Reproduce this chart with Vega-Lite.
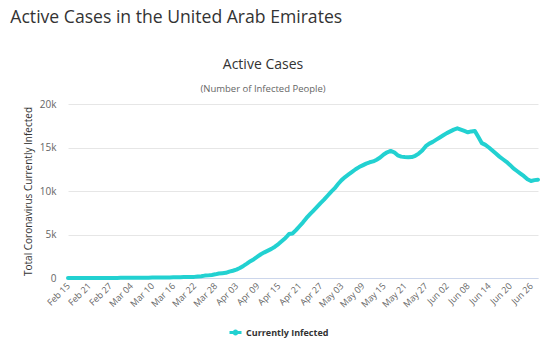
{
  "$schema": "https://vega.github.io/schema/vega-lite/v6.json",
  "background": "white",
  "padding": {"left": 10, "top": 8, "right": 5, "bottom": 5},
  "title": {
    "text": "Active Cases in the United Arab Emirates",
    "anchor": "start",
    "font": "Open Sans",
    "fontSize": 17.6,
    "fontWeight": "normal",
    "color": "#333333",
    "dx": -13,
    "offset": 31
  },
  "config": {
    "view": {"stroke": null},
    "font": "Open Sans",
    "axis": {
      "labelFont": "Open Sans",
      "labelColor": "#666666",
      "titleFont": "Open Sans",
      "titleColor": "#333333",
      "titleFontWeight": "normal",
      "gridColor": "#e6e6e6",
      "ticks": false
    }
  },
  "vconcat": [
    {
      "width": 470,
      "height": 174,
      "title": {
        "text": "Active Cases",
        "subtitle": "(Number of Infected People)",
        "anchor": "middle",
        "font": "Open Sans",
        "fontSize": 14,
        "fontWeight": "normal",
        "color": "#333333",
        "subtitleFont": "Open Sans",
        "subtitleFontSize": 9.5,
        "subtitleColor": "#666666",
        "subtitlePadding": 12,
        "dx": -40,
        "offset": 6
      },
      "data": {
        "values": [
          {"date": "Feb 15", "active": 8}, {"date": "Feb 16", "active": 8}, {"date": "Feb 17", "active": 8},
          {"date": "Feb 18", "active": 6}, {"date": "Feb 19", "active": 6}, {"date": "Feb 20", "active": 6},
          {"date": "Feb 21", "active": 6}, {"date": "Feb 22", "active": 6}, {"date": "Feb 23", "active": 6},
          {"date": "Feb 24", "active": 6}, {"date": "Feb 25", "active": 6}, {"date": "Feb 26", "active": 6},
          {"date": "Feb 27", "active": 8}, {"date": "Feb 28", "active": 12}, {"date": "Feb 29", "active": 14},
          {"date": "Mar 01", "active": 16}, {"date": "Mar 02", "active": 16}, {"date": "Mar 03", "active": 19},
          {"date": "Mar 04", "active": 22}, {"date": "Mar 05", "active": 22}, {"date": "Mar 06", "active": 22},
          {"date": "Mar 07", "active": 32}, {"date": "Mar 08", "active": 33}, {"date": "Mar 09", "active": 35},
          {"date": "Mar 10", "active": 48}, {"date": "Mar 11", "active": 51}, {"date": "Mar 12", "active": 54},
          {"date": "Mar 13", "active": 60}, {"date": "Mar 14", "active": 62}, {"date": "Mar 15", "active": 67},
          {"date": "Mar 16", "active": 72}, {"date": "Mar 17", "active": 75}, {"date": "Mar 18", "active": 87},
          {"date": "Mar 19", "active": 101}, {"date": "Mar 20", "active": 114}, {"date": "Mar 21", "active": 115},
          {"date": "Mar 22", "active": 128}, {"date": "Mar 23", "active": 175}, {"date": "Mar 24", "active": 207},
          {"date": "Mar 25", "active": 275}, {"date": "Mar 26", "active": 302}, {"date": "Mar 27", "active": 353},
          {"date": "Mar 28", "active": 422}, {"date": "Mar 29", "active": 511}, {"date": "Mar 30", "active": 550},
          {"date": "Mar 31", "active": 594}, {"date": "Apr 01", "active": 732}, {"date": "Apr 02", "active": 831},
          {"date": "Apr 03", "active": 960}, {"date": "Apr 04", "active": 1150}, {"date": "Apr 05", "active": 1390},
          {"date": "Apr 06", "active": 1650}, {"date": "Apr 07", "active": 1930}, {"date": "Apr 08", "active": 2160},
          {"date": "Apr 09", "active": 2450}, {"date": "Apr 10", "active": 2730}, {"date": "Apr 11", "active": 2950},
          {"date": "Apr 12", "active": 3150}, {"date": "Apr 13", "active": 3350}, {"date": "Apr 14", "active": 3600},
          {"date": "Apr 15", "active": 3900}, {"date": "Apr 16", "active": 4250}, {"date": "Apr 17", "active": 4600},
          {"date": "Apr 18", "active": 5050}, {"date": "Apr 19", "active": 5120}, {"date": "Apr 20", "active": 5500},
          {"date": "Apr 21", "active": 5950}, {"date": "Apr 22", "active": 6400}, {"date": "Apr 23", "active": 6900},
          {"date": "Apr 24", "active": 7330}, {"date": "Apr 25", "active": 7750}, {"date": "Apr 26", "active": 8180},
          {"date": "Apr 27", "active": 8600}, {"date": "Apr 28", "active": 9000}, {"date": "Apr 29", "active": 9450},
          {"date": "Apr 30", "active": 9900}, {"date": "May 01", "active": 10300}, {"date": "May 02", "active": 10800},
          {"date": "May 03", "active": 11250}, {"date": "May 04", "active": 11600}, {"date": "May 05", "active": 11900},
          {"date": "May 06", "active": 12200}, {"date": "May 07", "active": 12500}, {"date": "May 08", "active": 12750},
          {"date": "May 09", "active": 12950}, {"date": "May 10", "active": 13150}, {"date": "May 11", "active": 13300},
          {"date": "May 12", "active": 13400}, {"date": "May 13", "active": 13600}, {"date": "May 14", "active": 13850},
          {"date": "May 15", "active": 14200}, {"date": "May 16", "active": 14450}, {"date": "May 17", "active": 14600},
          {"date": "May 18", "active": 14450}, {"date": "May 19", "active": 14100}, {"date": "May 20", "active": 13950},
          {"date": "May 21", "active": 13900}, {"date": "May 22", "active": 13880}, {"date": "May 23", "active": 13900},
          {"date": "May 24", "active": 14050}, {"date": "May 25", "active": 14300}, {"date": "May 26", "active": 14650},
          {"date": "May 27", "active": 15150}, {"date": "May 28", "active": 15450}, {"date": "May 29", "active": 15650},
          {"date": "May 30", "active": 15900}, {"date": "May 31", "active": 16150}, {"date": "Jun 01", "active": 16400},
          {"date": "Jun 02", "active": 16650}, {"date": "Jun 03", "active": 16850}, {"date": "Jun 04", "active": 17050},
          {"date": "Jun 05", "active": 17200}, {"date": "Jun 06", "active": 17050}, {"date": "Jun 07", "active": 16900},
          {"date": "Jun 08", "active": 16750}, {"date": "Jun 09", "active": 16850}, {"date": "Jun 10", "active": 16900},
          {"date": "Jun 11", "active": 16200}, {"date": "Jun 12", "active": 15500}, {"date": "Jun 13", "active": 15300},
          {"date": "Jun 14", "active": 15000}, {"date": "Jun 15", "active": 14650}, {"date": "Jun 16", "active": 14300},
          {"date": "Jun 17", "active": 13950}, {"date": "Jun 18", "active": 13650}, {"date": "Jun 19", "active": 13350},
          {"date": "Jun 20", "active": 13000}, {"date": "Jun 21", "active": 12600}, {"date": "Jun 22", "active": 12300},
          {"date": "Jun 23", "active": 12000}, {"date": "Jun 24", "active": 11700}, {"date": "Jun 25", "active": 11350},
          {"date": "Jun 26", "active": 11150}, {"date": "Jun 27", "active": 11250}, {"date": "Jun 28", "active": 11300}
        ]
      },
      "mark": {"type": "line", "strokeWidth": 4, "strokeJoin": "round", "strokeCap": "round"},
      "encoding": {
        "x": {
          "field": "date",
          "type": "ordinal",
          "sort": null,
          "scale": {"type": "point", "padding": 0},
          "axis": {
            "title": null,
            "labelAngle": -45,
            "labelAlign": "right",
            "labelBaseline": "middle",
            "labelFontSize": 9,
            "labelPadding": 6,
            "grid": false,
            "domainColor": "#ccd6eb",
            "values": ["Feb 15", "Feb 21", "Feb 27", "Mar 04", "Mar 10", "Mar 16", "Mar 22", "Mar 28", "Apr 03", "Apr 09", "Apr 15", "Apr 21", "Apr 27", "May 03", "May 09", "May 15", "May 21", "May 27", "Jun 02", "Jun 08", "Jun 14", "Jun 20", "Jun 26"]
          }
        },
        "y": {
          "field": "active",
          "type": "quantitative",
          "scale": {"domain": [0, 20000], "nice": false},
          "axis": {
            "title": "Total Coronavirus Currently Infected",
            "titleFontSize": 10,
            "titlePadding": 6,
            "values": [0, 5000, 10000, 15000, 20000],
            "labelExpr": "datum.value == 0 ? '0' : format(datum.value / 1000, 'd') + 'k'",
            "labelFontSize": 10,
            "labelPadding": 12,
            "domain": false
          }
        },
        "color": {
          "datum": "Currently Infected",
          "type": "nominal",
          "scale": {"range": ["#22d1d1"]},
          "legend": {
            "title": null,
            "orient": "none",
            "legendX": 160,
            "legendY": 221,
            "symbolType": "M-1,0L1,0M-0.25,0A0.25,0.25 0 1,1 0.25,0A0.25,0.25 0 1,1 -0.25,0Z",
            "symbolSize": 144,
            "symbolStrokeWidth": 3,
            "labelOffset": 3,
            "labelFont": "Open Sans",
            "labelFontSize": 9,
            "labelFontWeight": "bold",
            "labelColor": "#333333"
          }
        }
      }
    }
  ]
}
